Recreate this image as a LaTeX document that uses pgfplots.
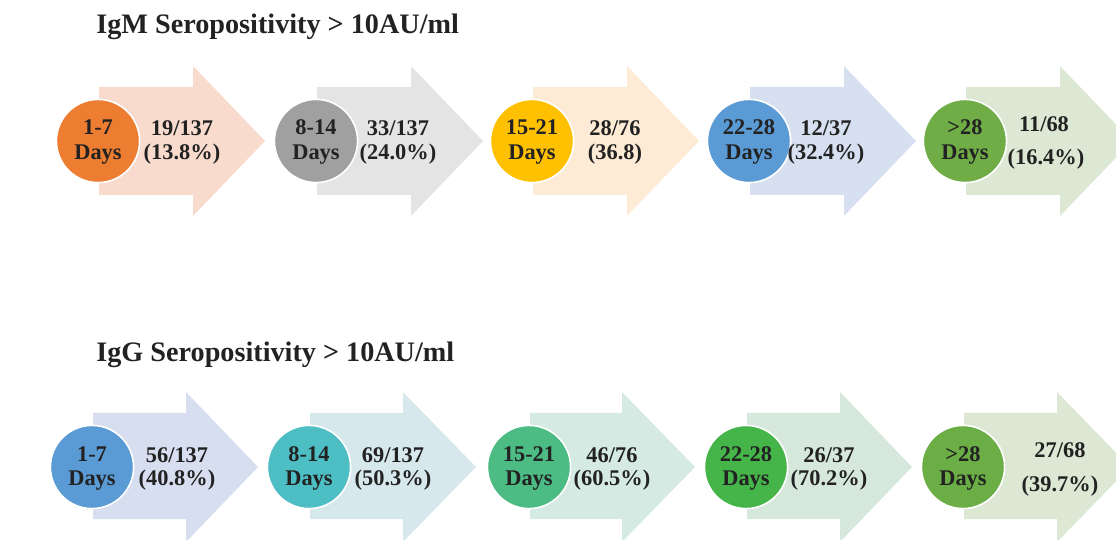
\documentclass[border=0pt]{standalone}
\usepackage{pgfplots}
\pgfplotsset{compat=1.18}
\usepackage{fontspec}
\setmainfont{Liberation Serif}
\definecolor{txt}{HTML}{222222}
% row 1 arrows / circles
\definecolor{aA1}{HTML}{F9DBCE}
\definecolor{aA2}{HTML}{E4E4E4}
\definecolor{aA3}{HTML}{FDEBD5}
\definecolor{aA4}{HTML}{D6E0F0}
\definecolor{aA5}{HTML}{DCE8D4}
\definecolor{cA1}{HTML}{ED7D31}
\definecolor{cA2}{HTML}{A0A0A0}
\definecolor{cA3}{HTML}{FFC000}
\definecolor{cA4}{HTML}{5B9BD5}
\definecolor{cA5}{HTML}{70AD47}
% row 2
\definecolor{aB1}{HTML}{D6DEF0}
\definecolor{aB2}{HTML}{D6E8EC}
\definecolor{aB3}{HTML}{D4EAE2}
\definecolor{aB4}{HTML}{D6E8DC}
\definecolor{aB5}{HTML}{DCE8D4}
\definecolor{cB1}{HTML}{5B9BD5}
\definecolor{cB2}{HTML}{4DBFC4}
\definecolor{cB3}{HTML}{4CBB84}
\definecolor{cB4}{HTML}{45B449}
\definecolor{cB5}{HTML}{6BAE45}
\begin{document}
\begin{tikzpicture}
\begin{axis}[width=558pt,height=270pt,scale only axis,
  xmin=0,xmax=1116,ymin=0,ymax=540,y dir=reverse,hide axis,clip=true,
  clip marker paths=true]
% ---- row 1 arrows
\addplot[fill=aA1,draw=none] coordinates {(99,87)(193,87)(193,66)(265,141)(193,216)(193,195)(99,195)} --cycle;
\addplot[fill=aA2,draw=none] coordinates {(317,87)(411,87)(411,66)(483,141)(411,216)(411,195)(317,195)} --cycle;
\addplot[fill=aA3,draw=none] coordinates {(533,87)(627,87)(627,66)(699,141)(627,216)(627,195)(533,195)} --cycle;
\addplot[fill=aA4,draw=none] coordinates {(750,87)(844,87)(844,66)(916,141)(844,216)(844,195)(750,195)} --cycle;
\addplot[fill=aA5,draw=none] coordinates {(966,87)(1060,87)(1060,66)(1132,141)(1060,216)(1060,195)(966,195)} --cycle;
% ---- row 2 arrows
\addplot[fill=aB1,draw=none] coordinates {(93,413)(186,413)(186,392)(258,467)(186,542)(186,519)(93,519)} --cycle;
\addplot[fill=aB2,draw=none] coordinates {(310,413)(403,413)(403,392)(476,467)(403,542)(403,519)(310,519)} --cycle;
\addplot[fill=aB3,draw=none] coordinates {(530,413)(622,413)(622,392)(695,467)(622,542)(622,519)(530,519)} --cycle;
\addplot[fill=aB4,draw=none] coordinates {(747,413)(840,413)(840,392)(912,467)(840,542)(840,519)(747,519)} --cycle;
\addplot[fill=aB5,draw=none] coordinates {(964,413)(1057,413)(1057,392)(1130,467)(1057,542)(1057,519)(964,519)} --cycle;
% ---- circles
\pgfplotsset{circ/.style={only marks,mark=*,mark size=20.8pt,mark options={fill=#1,draw=white,line width=0.8pt}}}
\addplot[circ=cA1] coordinates {(98,141)};
\addplot[circ=cA2] coordinates {(316,141)};
\addplot[circ=cA3] coordinates {(532,141)};
\addplot[circ=cA4] coordinates {(749,141)};
\addplot[circ=cA5] coordinates {(965,141)};
\addplot[circ=cB1] coordinates {(92,467)};
\addplot[circ=cB2] coordinates {(309,467)};
\addplot[circ=cB3] coordinates {(529,467)};
\addplot[circ=cB4] coordinates {(746,467)};
\addplot[circ=cB5] coordinates {(963,467)};
% ---- titles
\node[anchor=base west,font=\fontsize{14.1}{16}\selectfont\bfseries,text=txt,inner sep=0pt] at (axis cs:96,34) {IgM Seropositivity > 10AU/ml};
\node[anchor=base west,font=\fontsize{14.1}{16}\selectfont\bfseries,text=txt,inner sep=0pt] at (axis cs:96,362) {IgG Seropositivity > 10AU/ml};
% ---- circle labels
\tikzset{cl/.style={font=\fontsize{11.2}{13}\selectfont\bfseries,text=txt,inner sep=0pt,anchor=base}}
\node[cl] at (axis cs:98,135) {1-7};
\node[cl] at (axis cs:98,160) {Days};
\node[cl] at (axis cs:316,135) {8-14};
\node[cl] at (axis cs:316,160) {Days};
\node[cl] at (axis cs:532,135) {15-21};
\node[cl] at (axis cs:532,160) {Days};
\node[cl] at (axis cs:749,135) {22-28};
\node[cl] at (axis cs:749,160) {Days};
\node[cl] at (axis cs:965,135) {>28};
\node[cl] at (axis cs:965,160) {Days};
\node[cl] at (axis cs:92,461) {1-7};
\node[cl] at (axis cs:92,486) {Days};
\node[cl] at (axis cs:309,461) {8-14};
\node[cl] at (axis cs:309,486) {Days};
\node[cl] at (axis cs:529,461) {15-21};
\node[cl] at (axis cs:529,486) {Days};
\node[cl] at (axis cs:746,461) {22-28};
\node[cl] at (axis cs:746,486) {Days};
\node[cl] at (axis cs:963,461) {>28};
\node[cl] at (axis cs:963,486) {Days};
% ---- values
\node[cl] at (axis cs:182,136) {19/137};
\node[cl] at (axis cs:182,160) {(13.8\%)};
\node[cl] at (axis cs:398,136) {33/137};
\node[cl] at (axis cs:398,160) {(24.0\%)};
\node[cl] at (axis cs:615,136) {28/76};
\node[cl] at (axis cs:615,160) {(36.8)};
\node[cl] at (axis cs:826,136) {12/37};
\node[cl] at (axis cs:826,160) {(32.4\%)};
\node[cl] at (axis cs:1044,132) {11/68};
\node[cl] at (axis cs:1046,165) {(16.4\%)};
\node[cl] at (axis cs:177,462) {56/137};
\node[cl] at (axis cs:177,486) {(40.8\%)};
\node[cl] at (axis cs:393,462) {69/137};
\node[cl] at (axis cs:393,486) {(50.3\%)};
\node[cl] at (axis cs:612,462) {46/76};
\node[cl] at (axis cs:612,486) {(60.5\%)};
\node[cl] at (axis cs:829,462) {26/37};
\node[cl] at (axis cs:829,486) {(70.2\%)};
\node[cl] at (axis cs:1060,458) {27/68};
\node[cl] at (axis cs:1060,491) {(39.7\%)};
\end{axis}
\pgfresetboundingbox
\useasboundingbox (current axis.south west) rectangle (current axis.north east);
\end{tikzpicture}
\end{document}
